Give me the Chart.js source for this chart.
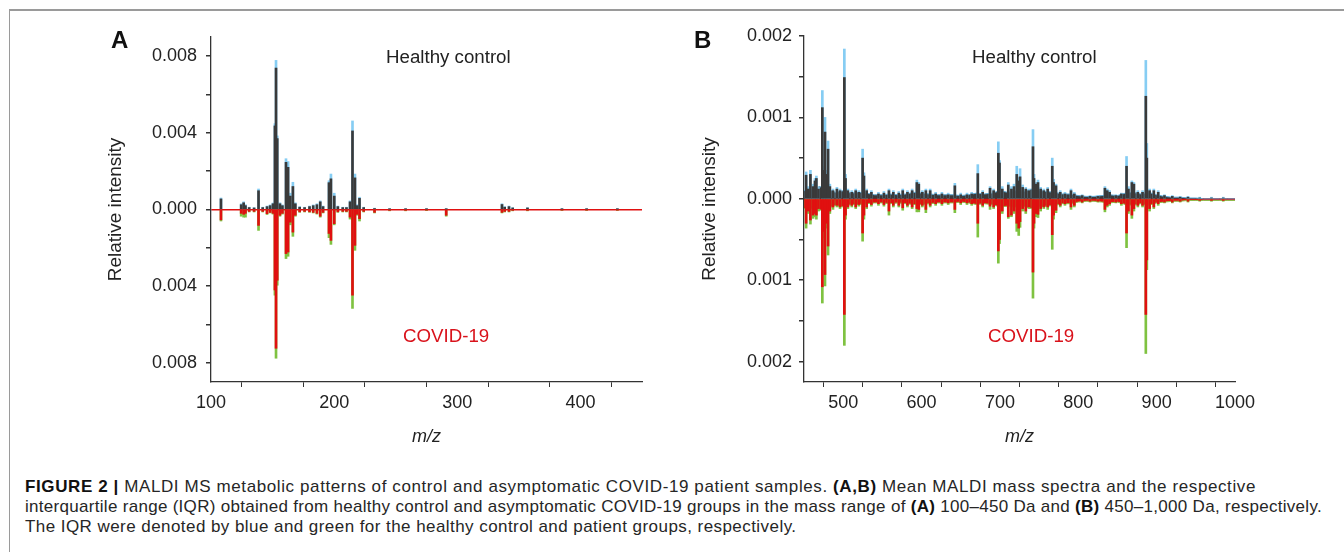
<!DOCTYPE html>
<html>
<head>
<meta charset="utf-8">
<script src="https://cdn.jsdelivr.net/npm/chart.js@4.4.1/dist/chart.umd.min.js"></script>
<style>
    body { margin: 0; width: 1344px; height: 552px; background: #fff; position: relative; overflow: hidden;
           font-family: "Liberation Sans", Arial, sans-serif; color: #222; }
    .frame { position: absolute; left: 9px; top: 9px; width: 1400px; height: 600px;
             border-top: 2px solid #9a9a9a; border-left: 1px solid #9a9a9a; }
    canvas { position: absolute; top: 0; }
    #chartA { left: 100px; }
    #chartB { left: 690px; }
    .lbl { position: absolute; white-space: nowrap; font-size: 18.7px; line-height: 22px; color: #222; }
    .panel { position: absolute; font-size: 24px; line-height: 24px; font-weight: bold; color: #111; }
    .red { color: #d9121b; }
    .cap { position: absolute; left: 25px; white-space: nowrap; font-size: 17px; line-height: 20px; color: #262626; }
    .cap b { color: #111; }
</style>
</head>
<body>
<div class="frame"></div>
<canvas id="chartA" width="560" height="470"></canvas>
<canvas id="chartB" width="590" height="470"></canvas>

<div class="panel" style="left:111px; top:28px;">A</div>
<div class="lbl" style="left:386px; top:46px;">Healthy control</div>
<div class="lbl red" style="left:403px; top:325px;">COVID-19</div>

<div class="panel" style="left:694px; top:28px;">B</div>
<div class="lbl" style="left:972px; top:46px;">Healthy control</div>
<div class="lbl red" style="left:988px; top:325px;">COVID-19</div>

<div class="cap" data-w="1231" style="top:477px;"><b>FIGURE 2 |</b> MALDI MS metabolic patterns of control and asymptomatic COVID-19 patient samples. <b>(A,B)</b> Mean MALDI mass spectra and the respective</div>
<div class="cap" data-w="1297" style="top:497px;">interquartile range (IQR) obtained from healthy control and asymptomatic COVID-19 groups in the mass range of <b>(A)</b> 100–450 Da and <b>(B)</b> 450–1,000 Da, respectively.</div>
<div class="cap" style="top:517px; letter-spacing:0.44px;">The IQR were denoted by blue and green for the healthy control and patient groups, respectively.</div>

<script>
// panel A, m/z 100-450
const mzA = [108.1, 124.5, 126.5, 128.0, 131.0, 135.0, 138.6, 142.0, 145.5, 148.0, 150.3, 151.9, 152.8, 153.8,
    156.0, 158.0, 160.9, 162.6, 164.4, 166.5, 168.5, 172.0, 176.0, 180.0, 183.0, 186.0, 188.7, 191.0, 195.8,
    197.4, 200.1, 203.0, 207.0, 210.0, 212.9, 214.9, 216.9, 218.5, 220.6, 224.0, 232.8, 245.0, 258.0, 275.0,
    291.0, 336.3, 338.5, 342.0, 345.0, 357.0, 385.0, 405.0, 430.0];
const healthyA = [0.00055, 0.00025, 0.00035, 0.0002, 0.0001, 0.00008, 0.00098, 0.0001, 0.00015, 0.0002, 0.0003,
    0.00436, 0.00738, 0.0037, 0.0003, 0.0002, 0.00246, 0.0022, 0.0007, 0.0012, 0.0003, 0.00012, 0.0001, 0.00015,
    0.0002, 0.00025, 0.0004, 0.00015, 0.0014, 0.0016, 0.0007, 0.00015, 0.0001, 0.0001, 0.0004, 0.0041, 0.00165,
    0.0002, 0.00058, 0.0001, 0.00005, 0.00003, 0.00003, 0.00003, 0.00003, 0.00026, 0.00012, 0.00015, 0.00008,
    0.00008, 0.00003, 0.00003, 0.00003];
const healthyIqrA = [0.0006, 0.0003, 0.0004, 0.00025, 0.00012, 0.0001, 0.00107, 0.00012, 0.00018, 0.00024, 0.00034,
    0.00448, 0.00778, 0.00384, 0.00035, 0.00024, 0.00265, 0.0025, 0.00085, 0.00142, 0.00035, 0.00015, 0.00012,
    0.00018, 0.00024, 0.0003, 0.00045, 0.00018, 0.0015, 0.00185, 0.00085, 0.00018, 0.00012, 0.00012, 0.00045,
    0.00462, 0.00185, 0.00025, 0.00064, 0.00012, 0.00007, 0.00005, 0.00005, 0.00005, 0.00005, 0.0003, 0.00015,
    0.00018, 0.0001, 0.0001, 0.00005, 0.00005, 0.00005];
const covidA = [-0.00054, -0.0002, -0.00025, -0.0002, -0.0001, -0.0001, -0.00083, -0.0001, -0.00022, -0.00015, -0.0002,
    -0.0042, -0.00724, -0.00369, -0.0003, -0.0002, -0.0023, -0.00222, -0.00066, -0.00118, -0.0003, -0.00012, -0.0001,
    -0.00012, -0.00015, -0.0002, -0.00035, -0.00015, -0.00125, -0.00161, -0.00074, -0.00012, -0.0001, -0.0001,
    -0.0004, -0.00447, -0.00187, -0.00025, -0.00048, -0.0001, -0.00015, -0.00005, -0.00005, -0.00004, -0.0003,
    -0.00015, -0.0001, -0.0001, -0.00005, -0.00005, -0.00003, -0.00003, -0.00003];
const covidIqrA = [-0.0006, -0.00035, -0.0004, -0.0004, -0.00013, -0.00013, -0.00109, -0.00013, -0.00026, -0.00018,
    -0.00024, -0.00447, -0.00776, -0.00395, -0.00035, -0.00024, -0.00256, -0.00244, -0.0008, -0.0014, -0.00035,
    -0.00015, -0.00013, -0.00015, -0.00018, -0.00024, -0.0004, -0.00018, -0.00147, -0.00182, -0.0008, -0.00015,
    -0.00013, -0.00013, -0.0005, -0.00516, -0.00213, -0.0003, -0.0006, -0.00013, -0.00018, -0.00007, -0.00007,
    -0.00006, -0.00035, -0.00018, -0.00013, -0.00013, -0.00007, -0.00007, -0.00005, -0.00005, -0.00005];
const xTicksA = [100, 150, 200, 250, 300, 350, 400, 450];
const xLabelsA = [100, 200, 300, 400];
const yTicksA = [-0.008, -0.006, -0.004, -0.002, 0, 0.002, 0.004, 0.006, 0.008];
const yLabelsA = [-0.008, -0.004, 0, 0.004, 0.008];

// panel B, m/z 450-1000
const mzB = [452.7, 455.5, 458.2, 461.6, 464.0, 465.8, 468.5, 473.4, 474.5, 476.8, 478.5, 480.7, 483.0, 487.0,
    492.0, 496.0, 501.5, 503.0, 506.0, 511.0, 516.0, 520.0, 524.8, 526.5, 530.0, 536.0, 545.0, 552.0, 558.4,
    564.0, 571.0, 576.0, 582.0, 588.0, 594.0, 596.5, 601.0, 605.5, 611.0, 618.0, 626.0, 634.0, 642.5, 650.0,
    658.0, 664.0, 671.8, 678.0, 687.4, 692.0, 698.0, 699.5, 703.0, 710.7, 714.7, 718.0, 721.5, 724.0, 725.7,
    729.0, 733.0, 737.0, 742.2, 743.5, 746.0, 748.6, 752.0, 756.0, 761.0, 766.8, 768.5, 771.6, 777.0, 783.0,
    790.7, 795.0, 805.0, 815.0, 825.0, 834.0, 837.0, 840.0, 848.0, 855.0, 861.6, 864.0, 868.4, 871.0, 876.0,
    882.0, 886.2, 887.5, 891.0, 896.4, 902.0, 910.0, 920.0, 930.0, 940.0, 955.0, 970.0, 985.0];
const healthyB = [0.00029, 0.00012, 0.0003, 0.00015, 0.00022, 0.00025, 0.00012, 0.00112, 0.00035, 0.00082, 0.0003,
    0.00061, 0.00015, 0.0001, 0.00012, 0.0001, 0.00149, 0.00025, 0.0001, 0.00008, 0.0001, 0.00008, 0.0005, 0.00028,
    0.0001, 0.00008, 0.00006, 0.00007, 0.0001, 0.00008, 0.00007, 0.0001, 0.00008, 0.0001, 0.0002, 0.00018, 0.00008,
    0.0001, 0.0001, 0.00006, 0.00006, 0.00005, 0.00016, 0.00005, 0.00005, 0.00006, 0.00031, 0.00008, 0.00013,
    0.0001, 0.00056, 0.00044, 0.00012, 0.00017, 0.00012, 0.00015, 0.0003, 0.00022, 0.00027, 0.00014, 0.00012,
    0.0001, 0.00064, 0.00025, 0.00018, 0.0002, 0.00012, 0.0001, 0.00012, 0.0004, 0.0002, 0.00016, 0.00008, 0.00006,
    0.0001, 0.00006, 0.00004, 0.00003, 0.00003, 0.00013, 0.0001, 0.00008, 0.00004, 0.00006, 0.0004, 0.00012, 0.0002,
    0.00018, 0.00008, 0.00008, 0.00126, 0.0005, 0.0001, 0.0001, 0.00008, 0.00004, 0.00003, 0.00002, 0.00002,
    0.00001, 0.00001, 0.00001];
const healthyIqrB = [0.00033, 0.00015, 0.00035, 0.00018, 0.00025, 0.00028, 0.00014, 0.00133, 0.0004, 0.001, 0.00035,
    0.00071, 0.00018, 0.00012, 0.00014, 0.00012, 0.00184, 0.0003, 0.00012, 0.0001, 0.00012, 0.0001, 0.00061,
    0.00032, 0.00012, 0.0001, 0.00008, 0.00009, 0.00012, 0.0001, 0.00009, 0.00012, 0.0001, 0.00012, 0.00023,
    0.0002, 0.0001, 0.00012, 0.00012, 0.00008, 0.00008, 0.00007, 0.00019, 0.00007, 0.00007, 0.00008, 0.00042,
    0.0001, 0.00015, 0.00012, 0.0007, 0.00047, 0.00015, 0.0002, 0.00015, 0.00018, 0.0004, 0.00026, 0.00037,
    0.00017, 0.00014, 0.00012, 0.00085, 0.0003, 0.0002, 0.00023, 0.00014, 0.00012, 0.00014, 0.0005, 0.00024,
    0.00018, 0.0001, 0.00008, 0.00012, 0.00008, 0.00005, 0.00004, 0.00004, 0.00015, 0.00012, 0.0001, 0.00005,
    0.00007, 0.00052, 0.00015, 0.00022, 0.0002, 0.0001, 0.0001, 0.0017, 0.00068, 0.00012, 0.00012, 0.0001,
    0.00005, 0.00004, 0.00003, 0.00003, 0.00002, 0.00002, 0.00002];
const covidB = [-0.0003, -0.00015, -0.00026, -0.0002, -0.00018, -0.0002, -0.00012, -0.00108, -0.0004, -0.00093,
    -0.0003, -0.00058, -0.00015, -0.0001, -0.00008, -0.0001, -0.00142, -0.0002, -0.0001, -0.00008, -0.0001,
    -0.00007, -0.00042, -0.0002, -0.0001, -0.00007, -0.00006, -0.00007, -0.00015, -0.00008, -0.00008, -0.00011,
    -0.00008, -0.0001, -0.00012, -0.00013, -0.00008, -0.00013, -0.00008, -0.00006, -0.00006, -0.00005, -0.00013,
    -0.00005, -0.00005, -0.00006, -0.0003, -0.00008, -0.00009, -0.0001, -0.00064, -0.0005, -0.00015, -0.00022,
    -0.0002, -0.00015, -0.0003, -0.00036, -0.00028, -0.00012, -0.00015, -0.0001, -0.0009, -0.0003, -0.00018,
    -0.00019, -0.00012, -0.0001, -0.0001, -0.00044, -0.0002, -0.00014, -0.00008, -0.00006, -0.0001, -0.00008,
    -0.00004, -0.00003, -0.00003, -0.00013, -0.00008, -0.00006, -0.00004, -0.00006, -0.00042, -0.00015, -0.0002,
    -0.00012, -0.00008, -0.00008, -0.00142, -0.00075, -0.00012, -0.0001, -0.00006, -0.00004, -0.00004, -0.00003,
    -0.00003, -0.00002, -0.00002, -0.00002];
const covidIqrB = [-0.00036, -0.00018, -0.00031, -0.00024, -0.00022, -0.00025, -0.00015, -0.00128, -0.00048,
    -0.00107, -0.00036, -0.00069, -0.00018, -0.00013, -0.0001, -0.00012, -0.0018, -0.00025, -0.00012, -0.0001,
    -0.00012, -0.00009, -0.00052, -0.00025, -0.00012, -0.00009, -0.00008, -0.00009, -0.0002, -0.0001, -0.0001,
    -0.00014, -0.0001, -0.00012, -0.00016, -0.00016, -0.0001, -0.00017, -0.0001, -0.00008, -0.00008, -0.00007,
    -0.00017, -0.00007, -0.00007, -0.00008, -0.00047, -0.0001, -0.00013, -0.00012, -0.00079, -0.00055, -0.00018,
    -0.00024, -0.00022, -0.00018, -0.0004, -0.00045, -0.00035, -0.00015, -0.00018, -0.00012, -0.00122, -0.00036,
    -0.00022, -0.00023, -0.00015, -0.00012, -0.00013, -0.00062, -0.00025, -0.00017, -0.0001, -0.00008, -0.00013,
    -0.0001, -0.00005, -0.00004, -0.00004, -0.00016, -0.0001, -0.00008, -0.00005, -0.00008, -0.0006, -0.00018,
    -0.00024, -0.00015, -0.0001, -0.0001, -0.0019, -0.00087, -0.00015, -0.00012, -0.00008, -0.00005, -0.00005,
    -0.00004, -0.00004, -0.00003, -0.00003, -0.00003];
// dense low-level signal under the peaks in B
const floorMzB = [450, 460, 470, 480, 490, 500, 510, 520, 530, 540, 550, 560, 570, 580, 590, 600, 610, 620, 630,
    640, 650, 660, 670, 680, 690, 700, 710, 720, 730, 740, 750, 760, 770, 780, 790, 800, 810, 820, 830, 840, 850,
    860, 870, 880, 890, 900, 910, 920, 930, 940, 950, 960, 970, 980, 990, 1000];
const floorHealthyB = [0.0001, 0.00012, 0.00015, 0.00012, 0.00008, 0.0001, 0.00007, 0.00008, 0.00007, 0.00005,
    0.00005, 0.00006, 0.00005, 0.00006, 0.00008, 0.00007, 0.00006, 0.00005, 0.00005, 0.00005, 0.00004, 0.00005,
    0.00007, 0.00006, 0.00007, 0.0001, 0.00008, 0.0001, 0.00009, 0.00012, 0.0001, 0.00009, 0.00008, 0.00006,
    0.00006, 0.00004, 0.00003, 0.00003, 0.00004, 0.00005, 0.00004, 0.00007, 0.00008, 0.00006, 0.00008, 0.00005,
    0.00003, 0.00002, 0.00002, 0.00001, 0.00001, 0, 0, 0, 0, 0];
const floorCovidB = [-0.00012, -0.00012, -0.00014, -0.00012, -0.00008, -0.0001, -0.00007, -0.00007, -0.00006,
    -0.00005, -0.00005, -0.00006, -0.00005, -0.00006, -0.00007, -0.00007, -0.00006, -0.00005, -0.00005, -0.00005,
    -0.00004, -0.00005, -0.00007, -0.00006, -0.00007, -0.0001, -0.00009, -0.0001, -0.00009, -0.00012, -0.0001,
    -0.00009, -0.00008, -0.00006, -0.00006, -0.00004, -0.00003, -0.00003, -0.00004, -0.00005, -0.00004, -0.00007,
    -0.00008, -0.00006, -0.00008, -0.00005, -0.00004, -0.00003, -0.00003, -0.00002, -0.00002, -0.00002, -0.00002,
    -0.00002, -0.00002, -0.00002];
const xTicksB = [450, 500, 550, 600, 650, 700, 750, 800, 850, 900, 950, 1000];
const xLabelsB = [500, 600, 700, 800, 900, 1000];
const yTicksB = [-0.002, -0.0015, -0.001, -0.0005, 0, 0.0005, 0.001, 0.0015, 0.002];
const yLabelsB = [-0.002, -0.001, 0, 0.001, 0.002];

const DARK = '#3a3a3a';
const RED = '#e01010';
const BLUE = '#86cdf3';
const GREEN = '#7fc241';
const AXIS = '#333333';

Chart.defaults.font.family = '"Liberation Sans", Arial, sans-serif';
Chart.defaults.color = '#222';

const pts = (xs, ys) => xs.map((x, i) => ({ x, y: ys[i] }));
const inList = (list, v) => list.some((m) => Math.abs(m - v) < 1e-9);

function spectrum(id, s) {
    const bar = { type: 'bar', barThickness: 2, grouped: false, borderWidth: 0 };
    const datasets = [
        { ...bar, label: 'Healthy mean', data: pts(s.mz, s.healthy), backgroundColor: DARK, order: 1 },
        { ...bar, label: 'COVID-19 mean', data: pts(s.mz, s.covid), backgroundColor: RED, order: 1 },
        { ...bar, label: 'Healthy IQR', data: pts(s.mz, s.healthyIqr), backgroundColor: BLUE, order: 2 },
        { ...bar, label: 'COVID-19 IQR', data: pts(s.mz, s.covidIqr), backgroundColor: GREEN, order: 2 },
    ];
    if (s.floorMz) {
        const line = { type: 'line', pointRadius: 0, tension: 0, fill: 'origin', borderWidth: 1, order: 3 };
        datasets.push({ ...line, label: 'Healthy floor', data: pts(s.floorMz, s.floorHealthy),
            backgroundColor: DARK, borderColor: '#5aa9d6' });
        datasets.push({ ...line, label: 'COVID-19 floor', data: pts(s.floorMz, s.floorCovid),
            backgroundColor: RED, borderColor: '#8cbf4a' });
    }

    return new Chart(document.getElementById(id), {
        type: 'bar',
        data: { datasets },
        options: {
            responsive: false,
            animation: false,
            devicePixelRatio: 1,
            layout: { padding: s.padding },
            plugins: { legend: { display: false }, tooltip: { enabled: false } },
            scales: {
                x: {
                    type: 'linear',
                    offset: false,
                    min: s.xTicks[0],
                    max: s.xTicks[s.xTicks.length - 1],
                    afterBuildTicks: (scale) => { scale.ticks = s.xTicks.map((value) => ({ value })); },
                    afterFit: (scale) => { scale.height = 88; },
                    border: { display: true, color: AXIS, width: 1.3 },
                    grid: { display: true, drawOnChartArea: false, drawTicks: true, tickLength: 5, tickColor: AXIS },
                    ticks: {
                        autoSkip: false, maxRotation: 0, padding: 5, color: '#222',
                        font: { size: 18 },
                        callback: (v) => (inList(s.xLabels, v) ? String(v) : ''),
                    },
                    title: {
                        display: true, text: 'm/z', color: '#222',
                        font: { size: 18, style: 'italic' }, padding: { top: 0, bottom: 22 },
                    },
                },
                y: {
                    min: s.yMin,
                    max: s.yMax,
                    afterBuildTicks: (scale) => { scale.ticks = s.yTicks.map((value) => ({ value })); },
                    afterFit: (scale) => { scale.width = s.yWidth; },
                    border: { display: true, color: AXIS, width: 1.3 },
                    grid: {
                        display: true, drawTicks: true, tickLength: 5, tickColor: AXIS,
                        color: (ctx) => (ctx.tick && ctx.tick.value === 0 ? RED : 'rgba(0,0,0,0)'),
                        lineWidth: 1.5,
                    },
                    ticks: {
                        autoSkip: false, padding: s.yPad, color: '#222',
                        font: { size: 18 },
                        callback: (v) => (inList(s.yLabels, v) ? Math.abs(v).toFixed(3) : ''),
                    },
                    title: {
                        display: true, text: 'Relative intensity', color: '#222',
                        font: { size: 19 }, padding: { top: s.titlePad, bottom: 0 },
                    },
                },
            },
        },
    });
}

spectrum('chartA', {
    mz: mzA, healthy: healthyA, healthyIqr: healthyIqrA, covid: covidA, covidIqr: covidIqrA,
    xTicks: xTicksA, xLabels: xLabelsA, yTicks: yTicksA, yLabels: yLabelsA,
    yMin: -0.009, yMax: 0.009, yWidth: 111, yPad: 9, titlePad: 4,
    padding: { top: 37, right: 18, left: 0, bottom: 0 },
});

spectrum('chartB', {
    mz: mzB, healthy: healthyB, healthyIqr: healthyIqrB, covid: covidB, covidIqr: covidIqrB,
    floorMz: floorMzB, floorHealthy: floorHealthyB, floorCovid: floorCovidB,
    xTicks: xTicksB, xLabels: xLabelsB, yTicks: yTicksB, yLabels: yLabelsB,
    yMin: -0.00225, yMax: 0.002, yWidth: 114, yPad: 7, titlePad: 8,
    padding: { top: 36, right: 45, left: 0, bottom: 0 },
});

// stretch the caption lines to the width they have in the printed figure
document.querySelectorAll('.cap[data-w]').forEach((el) => {
    const target = Number(el.dataset.w);
    const current = el.getBoundingClientRect().width;
    el.style.letterSpacing = ((target - current) / el.textContent.length) + 'px';
});
</script>
</body>
</html>
